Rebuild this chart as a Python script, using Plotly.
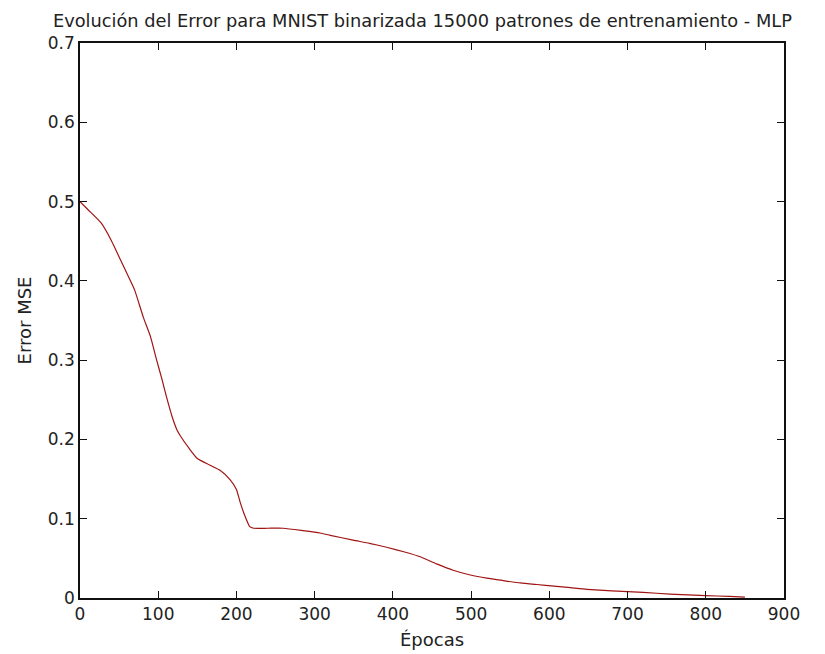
import plotly.graph_objects as go

epochs = [0, 10, 27, 40, 52, 64, 70, 81, 90, 98, 105, 111, 118, 124, 128, 140, 150, 165, 179, 192, 200, 205, 211, 217, 222, 240, 260, 285, 307, 320, 349, 370, 392, 415, 435, 456, 477, 499, 520, 541, 563, 584, 606, 627, 648, 680, 720, 754, 800, 830, 850]
error = [0.500, 0.490, 0.473, 0.451, 0.426, 0.401, 0.388, 0.354, 0.330, 0.300, 0.275, 0.252, 0.228, 0.212, 0.205, 0.188, 0.176, 0.168, 0.161, 0.149, 0.137, 0.120, 0.103, 0.090, 0.088, 0.088, 0.088, 0.085, 0.082, 0.079, 0.073, 0.069, 0.064, 0.058, 0.052, 0.043, 0.035, 0.029, 0.025, 0.022, 0.019, 0.017, 0.015, 0.013, 0.011, 0.009, 0.007, 0.005, 0.003, 0.002, 0.001]

x_ticks = [0, 100, 200, 300, 400, 500, 600, 700, 800, 900]
y_ticks = [0, 0.1, 0.2, 0.3, 0.4, 0.5, 0.6, 0.7]
y_tick_labels = ["0", "0.1", "0.2", "0.3", "0.4", "0.5", "0.6", "0.7"]

title_text = "Evolución del Error para MNIST binarizada 15000 patrones de entrenamiento - MLP"
x_label = "Épocas"
y_label = "Error MSE"

font_family = "DejaVu Sans, Liberation Sans, Arial, sans-serif"
text_color = "#222"

fig = go.Figure()
fig.add_trace(go.Scatter(x=epochs, y=error, mode="lines",
                         line=dict(color="#a01414", width=1.2, shape="spline", smoothing=0.5),
                         showlegend=False, hoverinfo="skip"))

axis_common = dict(showline=True, linecolor="#111", linewidth=1.5, mirror="ticks",
                   ticks="inside", ticklen=7, tickwidth=1.2, tickcolor="#111",
                   showgrid=False, zeroline=False, automargin=False,
                   tickfont=dict(family=font_family, size=17, color=text_color))

fig.update_layout(
    width=825, height=654,
    margin=dict(l=80, r=41, t=43, b=56, autoexpand=False),
    paper_bgcolor="white", plot_bgcolor="white",
    title=dict(text=title_text, x=0.512, xanchor="center", y=0.978, yanchor="top",
               font=dict(family=font_family, size=17.8, color=text_color)),
    xaxis=dict(range=[0, 900], tickvals=x_ticks, **axis_common,
               title=dict(text=x_label, standoff=10,
                          font=dict(family=font_family, size=18, color=text_color))),
    yaxis=dict(range=[0, 0.7], tickvals=y_ticks, ticktext=y_tick_labels, **axis_common,
               title=dict(text=y_label, standoff=12,
                          font=dict(family=font_family, size=18, color=text_color))),
)

fig.write_html("out.html")
